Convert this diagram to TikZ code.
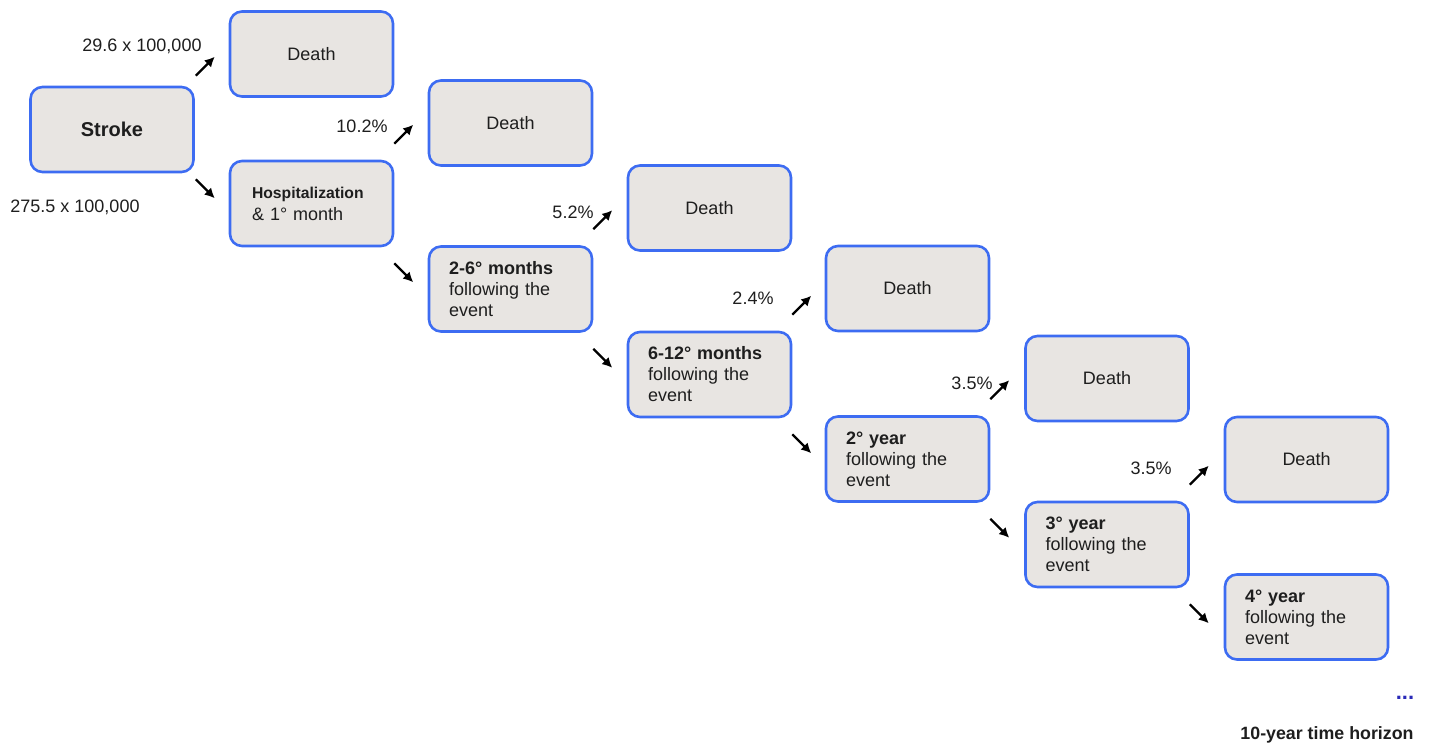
\documentclass[tikz,border=0pt]{standalone}
\usepackage{fontspec}
\setmainfont{Liberation Sans}
\usetikzlibrary{arrows.meta,calc}
\definecolor{boxfill}{HTML}{E8E5E2}
\definecolor{boxline}{HTML}{3D6CF2}
\definecolor{txt}{HTML}{1E1E1E}
\definecolor{dotblue}{HTML}{2A2AB8}
\begin{document}
\begin{tikzpicture}[x=1pt,y=-1pt,
  font=\fontsize{18}{21}\selectfont,
  state/.style={draw=boxline,fill=boxfill,line width=2.6pt,rounded corners=12pt,
    minimum width=163pt,minimum height=85pt,inner sep=0pt,text=txt},
  deathbox/.style={state,align=center},
  periodbox/.style={state,align=left,text width=123pt},
  lbl/.style={text=txt,inner sep=0pt},
  arr/.style={line width=2.2pt,-{Latex[length=10pt,width=10pt]}}]
\useasboundingbox (0,0) rectangle (1429,747);
% boxes
\node[deathbox,font=\fontsize{20}{24}\selectfont\bfseries] (stroke) at (112,129.5) {Stroke};
\node[deathbox] (d1) at (311.5,54) {Death};
\node[periodbox,text width=119pt] (hosp) at (311.5,203.5) {{\fontsize{15.7}{19}\selectfont\bfseries Hospitalization}\\[1pt]\& 1° month};
\node[deathbox] (d2) at (510.5,123) {Death};
\node[periodbox] (p1) at (510.5,289) {\textbf{2-6° months}\\following the\\event};
\node[deathbox] (d3) at (709.5,208) {Death};
\node[periodbox] (p2) at (709.5,374.5) {\textbf{6-12° months}\\following the\\event};
\node[deathbox] (d4) at (907.5,288.5) {Death};
\node[periodbox] (p3) at (907.5,459) {\textbf{2° year}\\following the\\event};
\node[deathbox] (d5) at (1107,378.5) {Death};
\node[periodbox] (p4) at (1107,544.5) {\textbf{3° year}\\following the\\event};
\node[deathbox] (d6) at (1306.5,459.5) {Death};
\node[periodbox] (p5) at (1306.5,617) {\textbf{4° year}\\following the\\event};
% arrows
\coordinate (s1a) at ($(stroke.north east)+(1,-10)$);
\coordinate (s1b) at ($(s1a)+(19,-19)$);
\coordinate (s2a) at ($(stroke.south east)+(1,6)$);
\coordinate (s2b) at ($(s2a)+(19,19)$);
\draw[arr] (s1a) -- (s1b);
\draw[arr] (s2a) -- (s2b);
\foreach \n in {hosp,p1,p2,p3,p4}{
  \coordinate (\n ua) at ($(\n.north east)+(0,-16)$);
  \coordinate (\n ub) at ($(\n ua)+(19,-19)$);
  \coordinate (\n da) at ($(\n.south east)+(0,16)$);
  \coordinate (\n db) at ($(\n da)+(19,19)$);
  \draw[arr] (\n ua) -- (\n ub);
  \draw[arr] (\n da) -- (\n db);
}
% labels
\node[lbl] (l1) at (142,46) {29.6 x 100,000};
\node[lbl] (l2) at (75,207) {275.5 x 100,000};
\node[lbl] (l3) at (362,126) {10.2\%};
\node[lbl] (l4) at (573,212) {5.2\%};
\node[lbl] (l5) at (753,298) {2.4\%};
\node[lbl] (l6) at (972,383) {3.5\%};
\node[lbl] (l7) at (1151,468) {3.5\%};
\node[lbl,text=dotblue,font=\fontsize{22}{24}\selectfont\bfseries] (dots) at (1405,698) {...};
\node[lbl,font=\fontsize{17.8}{21}\selectfont\bfseries] (horizon) at (1327,735) {10-year time horizon};
\end{tikzpicture}
\end{document}
